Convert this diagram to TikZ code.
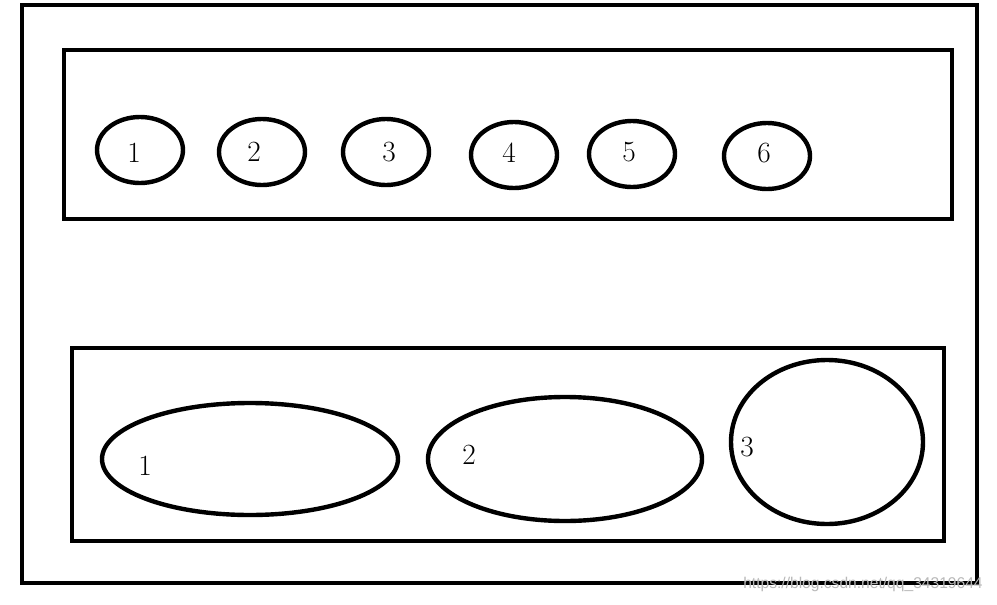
\documentclass[tikz,border=0pt]{standalone}
\usepackage{fontspec}
\newfontfamily\wmfont{Liberation Sans}
\usetikzlibrary{shapes.geometric}
\begin{document}
\begin{tikzpicture}[x=0.75pt,y=-0.75pt,
  box/.style={draw,line width=3.3pt},
  oval/.style={draw,ellipse,line width=3.3pt,inner sep=0pt},
  num/.style={inner sep=0pt,font=\fontsize{22}{26}\selectfont},
  wm/.style={inner sep=0pt,anchor=west,text=black!28,font=\wmfont\fontsize{11.7}{13}\selectfont}]
\useasboundingbox (0,0) rectangle (997,604);
\node[box,minimum width=955*0.75pt,minimum height=578*0.75pt] (outer) at (499.5,294) {};
\node[box,minimum width=888*0.75pt,minimum height=169*0.75pt] (top) at (508,134.5) {};
\node[box,minimum width=872*0.75pt,minimum height=193*0.75pt] (bottom) at (508,444.5) {};
% small ellipses
\foreach \i/\x/\y/\lx/\ly in {1/140/150/134/153, 2/262/152/254/152, 3/386/152/389/152, 4/514/155/509/153, 5/632/154/629/152, 6/767/156/764/153}{
  \node[oval,minimum width=86*0.75pt,minimum height=66*0.75pt] (s\i) at (\x,\y) {};
  \node[num] (sl\i) at (\lx,\ly) {\i};
}
% big ellipses
\node[oval,minimum width=296*0.75pt,minimum height=112*0.75pt] (b1) at (250,459) {};
\node[num] (bl1) at (145,466) {1};
\node[oval,minimum width=274*0.75pt,minimum height=124*0.75pt] (b2) at (565,459) {};
\node[num] (bl2) at (469,455) {2};
\node[oval,minimum width=192*0.75pt,minimum height=164*0.75pt] (b3) at (827,442) {};
\node[num] (bl3) at (747,447) {3};
\node[wm] (wmark) at (743,584) {https://blog.csdn.net/qq\_34319644};
\end{tikzpicture}
\end{document}
